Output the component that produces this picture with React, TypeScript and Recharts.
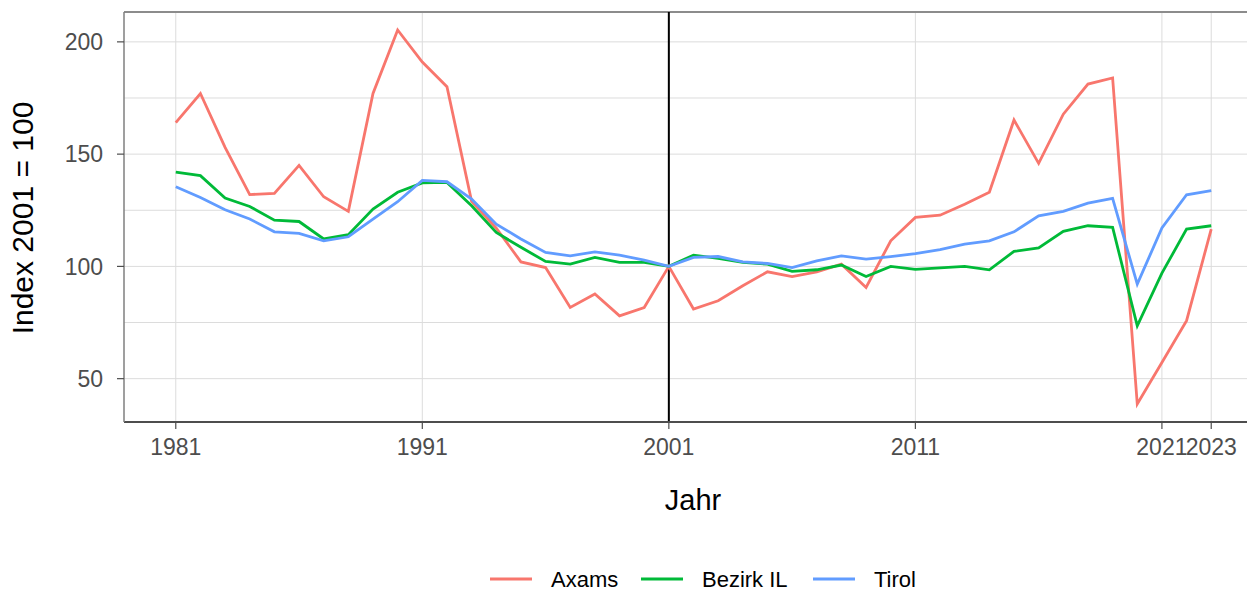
import React from 'react'
import { LineChart, Line, XAxis, YAxis, CartesianGrid, ReferenceLine, Label } from 'recharts'

const years = [
  1981, 1982, 1983, 1984, 1985, 1986, 1987, 1988, 1989, 1990,
  1991, 1992, 1993, 1994, 1995, 1996, 1997, 1998, 1999, 2000,
  2001, 2002, 2003, 2004, 2005, 2006, 2007, 2008, 2009, 2010,
  2011, 2012, 2013, 2014, 2015, 2016, 2017, 2018, 2019, 2020,
  2021, 2022, 2023,
]

const axams = [
  164, 177, 153, 132, 132.5, 145, 131, 124.5, 177, 205.3,
  191, 180, 129, 117, 102, 99.5, 81.7, 87.7, 78, 81.7,
  100, 81, 84.7, 91.4, 97.6, 95.5, 97.6, 101, 90.6, 111.4,
  121.8, 122.8, 127.7, 133, 165.2, 145.9, 167.8, 181.2, 183.9, 38.7,
  57.2, 75.8, 116.6,
]

const bezirkIL = [
  142, 140.4, 130.4, 126.7, 120.6, 120, 112.2, 114.1, 125.5, 133,
  137.2, 137.4, 127, 115.1, 108.5, 102.2, 101, 104, 101.8, 101.8,
  100, 105, 103.6, 101.8, 101, 97.8, 98.5, 100.6, 95.5, 100,
  98.7, 99.3, 100, 98.5, 106.7, 108.2, 115.6, 118.1, 117.4, 73.5,
  97, 116.6, 118.1,
]

const tirol = [
  135.5, 130.7, 125.2, 121.1, 115.4, 114.7, 111.4, 113.2, 121.1, 128.8,
  138.3, 137.7, 130, 118.8, 112.2, 106.2, 104.7, 106.5, 105, 102.8,
  100, 104, 104.4, 102, 101.3, 99.5, 102.5, 104.7, 103.2, 104.4,
  105.7, 107.5, 109.9, 111.4, 115.4, 122.5, 124.5, 128.2, 130.3, 92.1,
  117.1, 131.9, 133.7,
]

const xTicks = [1981, 1991, 2001, 2011, 2021, 2023]
const yTicks = [50, 100, 150, 200]
const yGrid = [50, 75, 100, 125, 150, 175, 200]
const baseYear = 2001

const series = [
  { key: 'Axams', color: '#F8766D' },
  { key: 'Bezirk IL', color: '#00BA38' },
  { key: 'Tirol', color: '#619CFF' },
]

const data = years.map((year, i) => ({
  year,
  Axams: axams[i],
  'Bezirk IL': bezirkIL[i],
  Tirol: tirol[i],
}))

const font = '"Liberation Sans", Arial, sans-serif'
const yMax = 213.3

// legend swatch start positions
const legendX = [490, 641, 813]

export default function App() {
  return (
    <div style={{ margin: -8, width: 1255, height: 595, overflow: 'hidden', position: 'relative', fontFamily: font }}>
      <LineChart
        width={1275}
        height={595}
        data={data}
        margin={{ top: 12, right: 12, left: 0, bottom: 0 }}
      >
        <CartesianGrid
          stroke="#dcdcdc"
          strokeWidth={1}
          horizontalValues={yGrid}
          verticalValues={xTicks}
        />
        <XAxis
          dataKey="year"
          type="number"
          domain={[1978.9, 2025.1]}
          ticks={xTicks}
          interval={0}
          allowDataOverflow
          height={173}
          tickSize={7}
          tickMargin={10}
          axisLine={{ stroke: '#4d4d4d', strokeWidth: 2 }}
          tickLine={{ stroke: '#4d4d4d', strokeWidth: 1.2 }}
          tick={{ fill: '#4d4d4d', fontSize: 23, fontFamily: font }}
        >
          <Label
            content={() => (
              <text x={693} y={510} textAnchor="middle" fontSize={29} fontFamily={font} fill="#000">
                Jahr
              </text>
            )}
          />
        </XAxis>
        <YAxis
          type="number"
          domain={[30.7, yMax]}
          ticks={yTicks}
          allowDataOverflow
          width={124}
          tickSize={7}
          tickMargin={14}
          axisLine={{ stroke: '#7f7f7f', strokeWidth: 1.5 }}
          tickLine={{ stroke: '#4d4d4d', strokeWidth: 1.2 }}
          tick={{ fill: '#4d4d4d', fontSize: 23, fontFamily: font }}
        >
          <Label
            content={() => (
              <text
                x={33}
                y={218}
                transform="rotate(-90, 33, 218)"
                textAnchor="middle"
                fontSize={30}
                fontFamily={font}
                fill="#000"
              >
                Index 2001 = 100
              </text>
            )}
          />
        </YAxis>
        <ReferenceLine y={yMax} stroke="#8c8c8c" strokeWidth={2} ifOverflow="visible" />
        <ReferenceLine x={baseYear} stroke="#000" strokeWidth={2} />
        {series.map(s => (
          <Line
            key={s.key}
            type="linear"
            dataKey={s.key}
            stroke={s.color}
            strokeWidth={2.8}
            dot={false}
            activeDot={false}
            isAnimationActive={false}
          />
        ))}
      </LineChart>
      <svg
        width={1255}
        height={40}
        style={{ position: 'absolute', left: 0, top: 550, overflow: 'visible' }}
      >
        {series.map((s, i) => (
          <g key={s.key}>
            <line x1={legendX[i]} x2={legendX[i] + 42} y1={29} y2={29} stroke={s.color} strokeWidth={3} />
            <text x={legendX[i] + 61} y={36.5} fontSize={22} fontFamily={font} fill="#000">
              {s.key}
            </text>
          </g>
        ))}
      </svg>
    </div>
  )
}
